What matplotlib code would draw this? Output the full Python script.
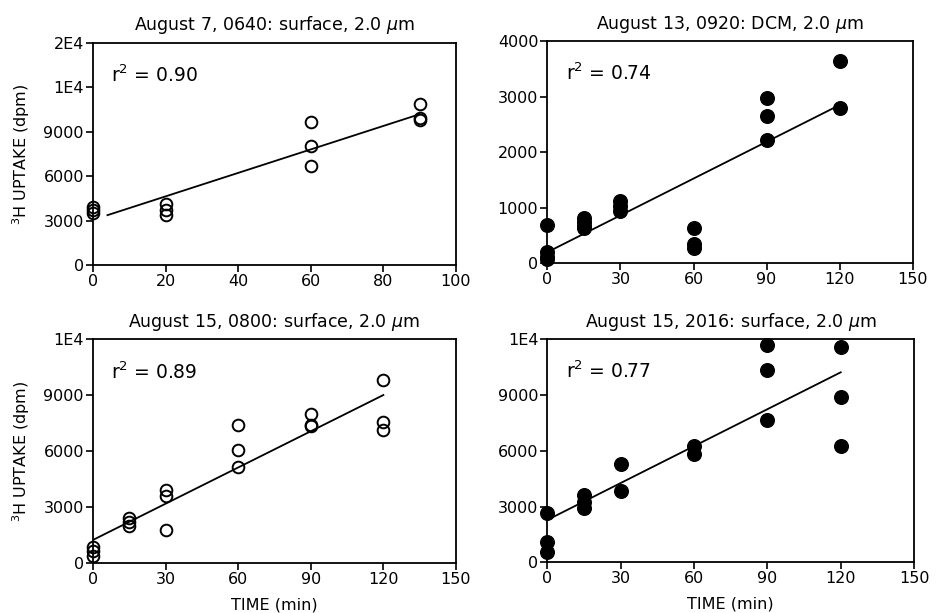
import matplotlib
matplotlib.use("Agg")
import matplotlib.pyplot as plt
import numpy as np

plt.rcParams['font.family'] = ['DejaVu Sans']

# --- data: 3H uptake (dpm) versus incubation time (min) ---
titles = [
    "August 7, 0640: surface, 2.0 $\\mu$m",
    "August 13, 0920: DCM, 2.0 $\\mu$m",
    "August 15, 0800: surface, 2.0 $\\mu$m",
    "August 15, 2016: surface, 2.0 $\\mu$m",
]
r2_values = ["0.90", "0.74", "0.89", "0.77"]

aug7_time = [0, 0, 0, 20, 20, 20, 60, 60, 60, 90, 90, 90]
aug7_dpm = [3900, 3700, 3500, 4100, 3700, 3400, 9650, 8050, 6700, 10850, 9900, 9800]

aug13_time = [0, 0, 0, 0, 15, 15, 15, 15, 30, 30, 30, 60, 60, 60, 90, 90, 90, 120, 120]
aug13_dpm = [690, 210, 120, 70, 810, 740, 680, 630, 1120, 1030, 950, 640, 340, 270,
             2970, 2650, 2220, 3640, 2790]

aug15a_time = [0, 0, 0, 15, 15, 15, 30, 30, 30, 60, 60, 60, 90, 90, 90, 120, 120, 120]
aug15a_dpm = [880, 680, 380, 2400, 2200, 2000, 3930, 3580, 1800, 7420, 6050, 5180,
              8000, 7400, 7350, 9820, 7550, 7150]

aug15b_time = [0, 0, 0, 15, 15, 15, 30, 30, 60, 60, 90, 90, 90, 120, 120, 120]
aug15b_dpm = [2640, 1100, 540, 3620, 3270, 2910, 5300, 3860, 6250, 5850,
              11700, 10350, 7650, 11600, 8900, 6280]

# regression lines: (intercept, slope, t_start, t_end)
fit_lines = [
    (3050, 79.3, 4, 90),
    (200, 22.1, 0, 120),
    (1250, 64.7, 0, 120),
    (2280, 66.2, 0, 120),
]

x_ticks = [
    [0, 20, 40, 60, 80, 100],
    [0, 30, 60, 90, 120, 150],
    [0, 30, 60, 90, 120, 150],
    [0, 30, 60, 90, 120, 150],
]
y_ticks = [
    [0, 3000, 6000, 9000, 12000, 15000],
    [0, 1000, 2000, 3000, 4000],
    [0, 3000, 6000, 9000, 12000],
    [0, 3000, 6000, 9000, 12000],
]
y_ticklabels = [
    ["0", "3000", "6000", "9000", "1E4", "2E4"],
    ["0", "1000", "2000", "3000", "4000"],
    ["0", "3000", "6000", "9000", "1E4"],
    ["0", "3000", "6000", "9000", "1E4"],
]

series = [
    (aug7_time, aug7_dpm, False),
    (aug13_time, aug13_dpm, True),
    (aug15a_time, aug15a_dpm, False),
    (aug15b_time, aug15b_dpm, True),
]

axes_rects = [
    [0.0991, 0.5677, 0.3870, 0.3622],
    [0.5835, 0.5705, 0.3896, 0.3622],
    [0.0991, 0.0811, 0.3870, 0.3654],
    [0.5835, 0.0827, 0.3910, 0.3638],
]

fig = plt.figure(figsize=(9.38, 6.13), dpi=100)

for i in range(4):
    ax = fig.add_axes(axes_rects[i])
    t, v, filled = series[i]
    if filled:
        ax.plot(t, v, 'o', ms=9.8, mfc='black', mec='black', clip_on=False, zorder=3)
    else:
        ax.plot(t, v, 'o', ms=8.4, mfc='none', mec='black', mew=1.4, clip_on=False, zorder=3)

    b0, b1, t0, t1 = fit_lines[i]
    xs = np.array([t0, t1])
    ax.plot(xs, b0 + b1 * xs, '-', color='black', lw=1.3)

    ax.set_xlim(x_ticks[i][0], x_ticks[i][-1])
    ax.set_ylim(y_ticks[i][0], y_ticks[i][-1])
    ax.set_xticks(x_ticks[i])
    ax.set_yticks(y_ticks[i])
    ax.set_yticklabels(y_ticklabels[i])
    ax.tick_params(direction='out', length=5, width=1.2, labelsize=11.5,
                   top=False, right=False, pad=1.5)
    for sp in ax.spines.values():
        sp.set_linewidth(1.3)

    ax.set_title(titles[i], fontsize=12.5, pad=9)
    ax.text(0.05, 0.855, "r$^{2}$ = " + r2_values[i], transform=ax.transAxes,
            fontsize=13.5, ha='left', va='center')

    if i % 2 == 0:
        ax.set_ylabel("$^{3}$H UPTAKE (dpm)", fontsize=11.5, labelpad=8)
    if i >= 2:
        ax.set_xlabel("TIME (min)", fontsize=11.5, labelpad=7)

fig.savefig("out.png", dpi=100)
